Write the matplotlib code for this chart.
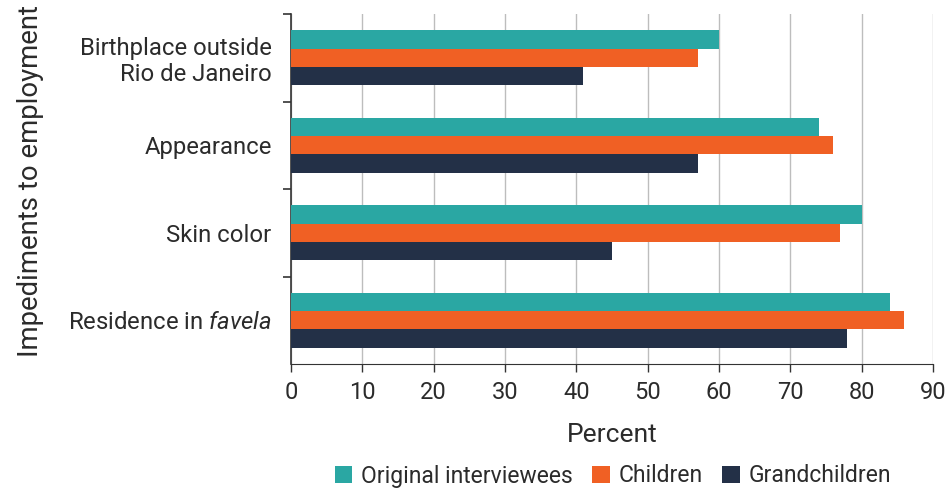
import numpy as np
import matplotlib
matplotlib.use('Agg')
from matplotlib import pyplot as plt
from matplotlib.patches import Patch

plt.rcParams['font.family'] = ['Roboto', 'DejaVu Sans']
plt.rcParams['mathtext.fontset'] = 'custom'
plt.rcParams['mathtext.it'] = 'Roboto:italic'
plt.rcParams['mathtext.rm'] = 'Roboto'

categories = ['Birthplace outside\nRio de Janeiro', 'Appearance', 'Skin color', 'Residence in $\\it{favela}$']
series = ['Original interviewees', 'Children', 'Grandchildren']
original = [60, 74, 80, 84]
children = [57, 76, 77, 86]
grandchildren = [41, 57, 45, 78]
colors = ['#2AA7A3', '#F06024', '#233047']
xticks = [0, 10, 20, 30, 40, 50, 60, 70, 80, 90]

txt = '#2b2b2b'

fig = plt.figure(figsize=(9.48, 4.88), dpi=100)
ax = fig.add_axes([291/948, 1 - 364/488, (933 - 291)/948, (364 - 14)/488])

y = np.arange(len(categories))
h = 0.21
for k, (vals, c) in enumerate(zip([original, children, grandchildren], colors)):
    ax.barh(y + (k - 1) * h, vals, height=h, color=c, zorder=3)

ax.set_xlim(0, 90)
ax.set_ylim(3.5, -0.5)
ax.set_xticks(xticks)
ax.xaxis.grid(True, color='#bdbdbd', linewidth=1.0, zorder=0)
ax.set_yticks(y)
ax.set_yticklabels(categories, fontsize=17.2, color=txt, linespacing=1.18)
ax.set_yticks(np.arange(-0.5, 3.0, 1.0), minor=True)
ax.tick_params(axis='y', which='major', length=0, pad=14)
ax.tick_params(axis='y', which='minor', length=6, width=1.2, color='#333333')
ax.tick_params(axis='x', labelsize=17, labelcolor=txt, length=6, width=1, color='#333333', pad=6)

for s in ['top', 'right']:
    ax.spines[s].set_visible(False)
ax.spines['left'].set_color('#333333')
ax.spines['bottom'].set_color('#333333')
ax.spines['left'].set_linewidth(1.2)

ax.set_xlabel('Percent', fontsize=19, color=txt, labelpad=14)
fig.text(31/948, 1 - 181/488, 'Impediments to employment', rotation=90, fontsize=19.8,
         color=txt, ha='center', va='center')

handles = [Patch(facecolor=c, label=s) for c, s in zip(colors, series)]
fig.legend(handles=handles, loc='center', bbox_to_anchor=(613/948, 1 - 476/488), ncol=3,
           frameon=False, fontsize=16.5, handlelength=0.75, handleheight=0.75,
           handletextpad=0.4, columnspacing=0.85, labelcolor=txt)

plt.savefig('out.png', dpi=100)
